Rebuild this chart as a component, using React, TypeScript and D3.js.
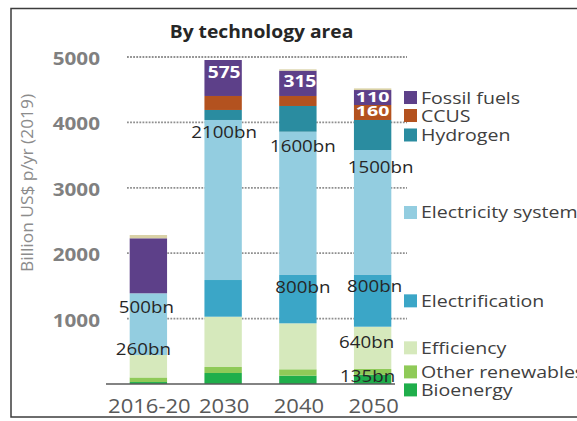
import React from "react";
import * as d3 from "d3";

// ---- Data ----
const CATEGORIES = ["2016-20", "2030", "2040", "2050"];

const SERIES_KEYS = [
  "Bioenergy",
  "Other renewables",
  "Efficiency",
  "Electrification",
  "Electricity system",
  "Hydrogen",
  "CCUS",
  "Fossil fuels",
  "Other",
];

const bioenergy = [30, 168, 127, 140];
const otherRenewables = [70, 92, 98, 90];
const efficiency = [343, 769, 703, 646];
const electrification = [0, 561, 739, 791];
const electricitySystem = [944, 2447, 2191, 1911];
const hydrogen = [0, 153, 393, 459];
const ccus = [0, 214, 153, 229];
const fossilFuels = [841, 550, 387, 229];
const otherSmall = [50, 0, 20, 25];

const SERIES_VALUES = [
  bioenergy,
  otherRenewables,
  efficiency,
  electrification,
  electricitySystem,
  hydrogen,
  ccus,
  fossilFuels,
  otherSmall,
];

const COLORS: Record<string, string> = {
  Bioenergy: "#1fae4b",
  "Other renewables": "#8fca58",
  Efficiency: "#d6e9bc",
  Electrification: "#3ba6c7",
  "Electricity system": "#93cde0",
  Hydrogen: "#2a8ca0",
  CCUS: "#b3521f",
  "Fossil fuels": "#5d4089",
  Other: "#d9d1a6",
};

// legend order top to bottom
const LEGEND_KEYS = [
  "Fossil fuels",
  "CCUS",
  "Hydrogen",
  "Electricity system",
  "Electrification",
  "Efficiency",
  "Other renewables",
  "Bioenergy",
];

const Y_TICKS = [1000, 2000, 3000, 4000, 5000];
const Y_TICK_LABELS = ["1000", "2000", "3000", "4000", "5000"];

// annotations: category, text, value at text baseline, white?
const LABEL_CATS = ["2016-20", "2016-20", "2030", "2040", "2050", "2040", "2050", "2050", "2050", "2030", "2040", "2050", "2050"];
const LABEL_TEXTS = ["500bn", "260bn", "2100bn", "1600bn", "1500bn", "800bn", "800bn", "640bn", "135bn", "575", "315", "110", "160"];
const LABEL_VALUES = [1086, 443, 3761, 3547, 3226, 1391, 1407, 550, 31, 4679, 4541, 4312, 4098];
const LABEL_WHITE = [false, false, false, false, false, false, false, false, false, true, true, true, true];
const LABEL_DX = [-2, -5, 1, 5, 8, 5, 2, -6, -5, 1, 2, 0, 0];

const W = 577;
const H = 421;
const FONT = "'Open Sans', 'Noto Sans', sans-serif";

const T = ({
  x,
  y,
  sx = 1.15,
  anchor = "middle",
  size,
  weight = 400,
  fill,
  children,
  rotate = 0,
}: any) => (
  <text
    transform={`translate(${x},${y}) rotate(${rotate}) scale(${sx},1)`}
    textAnchor={anchor}
    fontSize={size}
    fontWeight={weight}
    fill={fill}
    fontFamily={FONT}
  >
    {children}
  </text>
);

export default function App() {
  const x = d3
    .scaleBand<string>()
    .domain(CATEGORIES)
    .range([111, 410])
    .paddingInner(0.5)
    .paddingOuter(0.25);
  const y = d3.scaleLinear().domain([0, 5000]).range([384, 57]);

  const rows = CATEGORIES.map((c, i) => {
    const r: any = { cat: c };
    SERIES_KEYS.forEach((k, j) => (r[k] = SERIES_VALUES[j][i]));
    return r;
  });
  const stacked = d3.stack<any>().keys(SERIES_KEYS)(rows);

  // legend positions from the 2050 segment midpoints, with minimum spacing
  const last = CATEGORIES.length - 1;
  const mids: Record<string, number> = {};
  stacked.forEach((s) => {
    const seg = s[last];
    mids[s.key] = y((seg[0] + seg[1]) / 2);
  });
  const legendY: number[] = [];
  LEGEND_KEYS.forEach((k, i) => {
    let v = mids[k];
    if (i > 0) v = Math.max(v, legendY[i - 1] + 18);
    legendY.push(v);
  });

  const bw = x.bandwidth();

  return (
    <svg
      width={W}
      height={H}
      style={{ position: "absolute", left: 0, top: 0, display: "block", background: "#fff" }}
    >
      <rect x={0} y={0} width={W} height={H} fill="#fff" />
      <rect x={11} y={8.5} width={600} height={408.5} fill="none" stroke="#3c3c3c" strokeWidth={1.5} />

      {/* title */}
      <T x={261.5} y={37.5} size={17.5} weight={700} fill="#262626" sx={1.1}>
        By technology area
      </T>

      {/* y axis label */}
      <T x={32.5} y={183} rotate={-90} size={15.5} weight={500} fill="#8c8c8c" sx={1.12}>
        Billion US$ p/yr (2019)
      </T>

      {/* grid */}
      {Y_TICKS.map((t) => (
        <line
          key={t}
          x1={127}
          x2={407}
          y1={y(t)}
          y2={y(t)}
          stroke="#8f8f8f"
          strokeWidth={1.8}
          strokeDasharray="1.8 1.3"
        />
      ))}
      {Y_TICKS.map((t, i) => (
        <T key={t} x={100} y={y(t) + 8} anchor="end" size={18} weight={700} fill="#808080" sx={1.15}>
          {Y_TICK_LABELS[i]}
        </T>
      ))}

      {/* bars */}
      {stacked.map((s) => (
        <g key={s.key} fill={COLORS[s.key]}>
          {s.map((d: any, i: number) =>
            d[1] - d[0] > 0 ? (
              <rect
                key={i}
                x={x(CATEGORIES[i])!}
                y={y(d[1])}
                width={bw}
                height={y(d[0]) - y(d[1])}
              />
            ) : null
          )}
        </g>
      ))}

      {/* baseline */}
      <line x1={106} x2={395} y1={y(0)} y2={y(0)} stroke="#5a5a5a" strokeWidth={1.5} />

      {/* x labels */}
      {CATEGORIES.map((c) => (
        <T key={c} x={x(c)! + bw / 2 + 1} y={413} size={20} fill="#595959" sx={1.1}>
          {c}
        </T>
      ))}

      {/* annotations */}
      {LABEL_TEXTS.map((t, i) => {
        const cx = x(LABEL_CATS[i])! + bw / 2 + LABEL_DX[i];
        const white = LABEL_WHITE[i];
        const small = white && (t === "110" || t === "160");
        return (
          <T
            key={i}
            x={cx}
            y={y(LABEL_VALUES[i])}
            size={white ? (small ? 14 : 16) : 16}
            weight={white ? 700 : 400}
            fill={white ? "#ffffff" : "#262626"}
            sx={white ? (small ? 1.4 : 1.2) : 1.17}
          >
            {t}
          </T>
        );
      })}

      {/* legend */}
      {LEGEND_KEYS.map((k, i) => (
        <g key={k}>
          <rect x={404} y={legendY[i] - 6.5} width={13} height={13} fill={COLORS[k]} />
          <T x={421} y={legendY[i] + 6} anchor="start" size={17} fill="#404040" sx={1.15}>
            {k}
          </T>
        </g>
      ))}
    </svg>
  );
}
